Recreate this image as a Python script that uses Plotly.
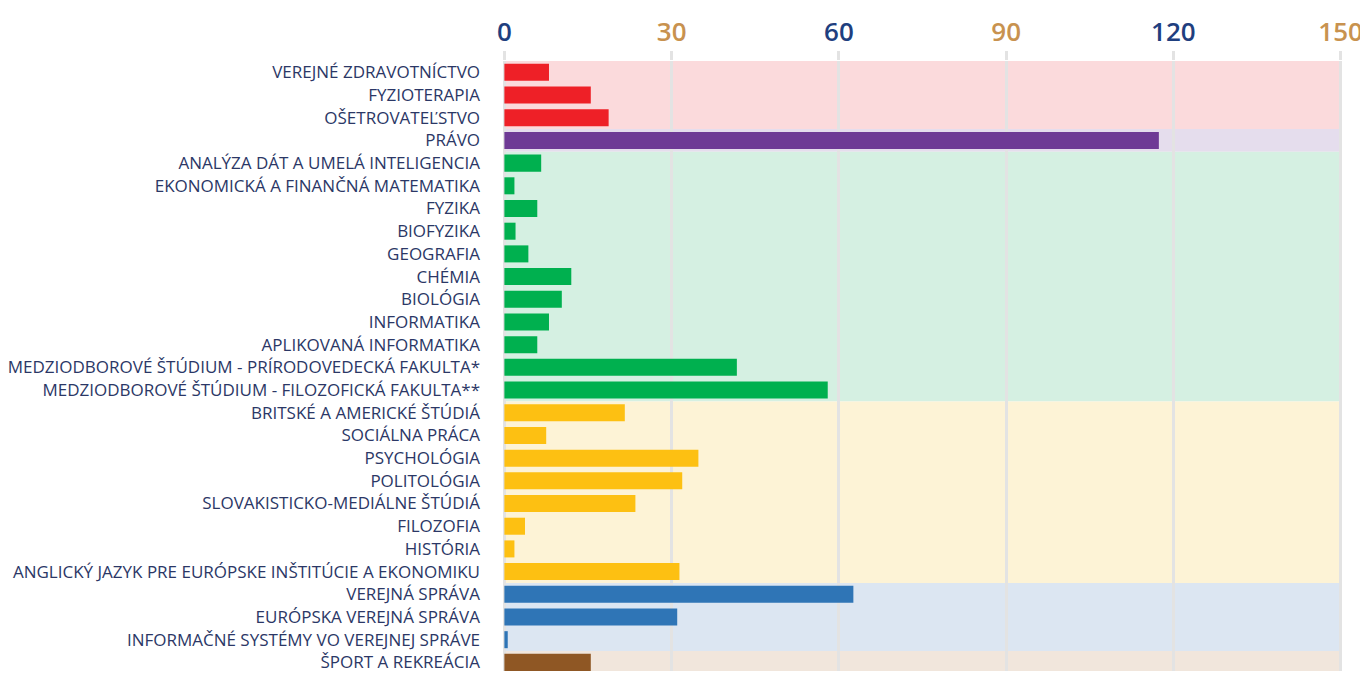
import plotly.graph_objects as go

categories = [
    "VEREJNÉ ZDRAVOTNÍCTVO", "FYZIOTERAPIA", "OŠETROVATEĽSTVO", "PRÁVO",
    "ANALÝZA DÁT A UMELÁ INTELIGENCIA", "EKONOMICKÁ A FINANČNÁ MATEMATIKA",
    "FYZIKA", "BIOFYZIKA", "GEOGRAFIA", "CHÉMIA", "BIOLÓGIA", "INFORMATIKA",
    "APLIKOVANÁ INFORMATIKA",
    "MEDZIODBOROVÉ ŠTÚDIUM - PRÍRODOVEDECKÁ FAKULTA*",
    "MEDZIODBOROVÉ ŠTÚDIUM - FILOZOFICKÁ FAKULTA**",
    "BRITSKÉ A AMERICKÉ ŠTÚDIÁ", "SOCIÁLNA PRÁCA", "PSYCHOLÓGIA", "POLITOLÓGIA",
    "SLOVAKISTICKO-MEDIÁLNE ŠTÚDIÁ", "FILOZOFIA", "HISTÓRIA",
    "ANGLICKÝ JAZYK PRE EURÓPSKE INŠTITÚCIE A EKONOMIKU",
    "VEREJNÁ SPRÁVA", "EURÓPSKA VEREJNÁ SPRÁVA",
    "INFORMAČNÉ SYSTÉMY VO VEREJNEJ SPRÁVE", "ŠPORT A REKREÁCIA",
]
values = [8.0, 15.5, 18.7, 117.4, 6.6, 1.8, 5.9, 2.0, 4.3, 12.0, 10.3, 8.0, 5.9,
          41.7, 58.0, 21.6, 7.5, 34.8, 31.9, 23.5, 3.7, 1.8, 31.4, 62.6, 31.0, 0.6, 15.5]
groups = ["med"] * 3 + ["law"] + ["sci"] * 11 + ["art"] * 8 + ["pub"] * 3 + ["sport"]

group_order = ["med", "law", "sci", "art", "pub", "sport"]
bar_colors = {"med": "#EE2027", "law": "#6E3A95", "sci": "#00B04F",
              "art": "#FDC012", "pub": "#2F75B6", "sport": "#8F5724"}
band_colors = {"med": "#FBDADC", "law": "#E5DDED", "sci": "#D5F0E2",
               "art": "#FDF3D6", "pub": "#DCE6F2", "sport": "#F1E6DC"}

tick_vals = [0, 30, 60, 90, 120, 150]
tick_colors = ["#1F3F7F", "#C8924F", "#1F3F7F", "#C8924F", "#1F3F7F", "#C8924F"]

x_max = 150

fig = go.Figure()
fig.add_trace(go.Bar(
    x=values, y=categories, orientation="h",
    marker=dict(color=[bar_colors[g] for g in groups], line=dict(width=0)),
    width=0.75, hoverinfo="x+y",
))

# background bands per group
for g in group_order:
    idx = [i for i, gg in enumerate(groups) if gg == g]
    fig.add_shape(type="rect", xref="x", yref="y",
                  x0=0, x1=x_max, y0=min(idx) - 0.5, y1=max(idx) + 0.5,
                  fillcolor=band_colors[g], line=dict(width=0), layer="below")

fig.update_layout(
    width=1360, height=665,
    margin=dict(l=492, r=26, t=53, b=0),
    paper_bgcolor="white", plot_bgcolor="white",
    showlegend=False,
    xaxis=dict(
        side="top", range=[-0.25, 150.25],
        tickvals=tick_vals,
        ticktext=[f"<span style='color:{c}'>{v}</span>" for v, c in zip(tick_vals, tick_colors)],
        tickfont=dict(family="Open Sans", size=26, weight=600),
        showgrid=True, gridcolor="#E3E3E3", gridwidth=3,
        zeroline=False, showline=False,
        ticks="outside", ticklen=9, tickwidth=3, tickcolor="#E3E3E3",
        fixedrange=True,
    ),
    yaxis=dict(
        categoryorder="array", categoryarray=categories,
        range=[26.38, -0.5],
        tickfont=dict(family="Open Sans", size=17, color="#2B3766"),
        showgrid=False, zeroline=False, showline=False,
        ticks="", ticklabelstandoff=22,
        fixedrange=True,
    ),
)

fig.write_html("out.html")
